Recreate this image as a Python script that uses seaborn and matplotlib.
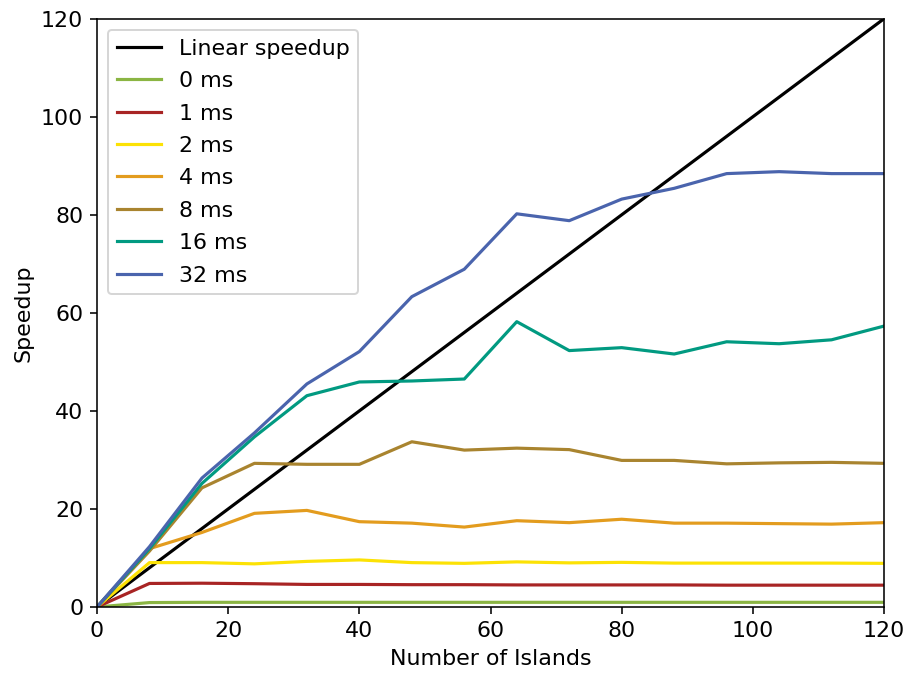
import numpy as np
import pandas as pd
import matplotlib
matplotlib.use("Agg")
import matplotlib.pyplot as plt
import seaborn as sns

# Number of islands sampled
islands = [0, 8, 16, 24, 32, 40, 48, 56, 64, 72, 80, 88, 96, 104, 112, 120]

# Measured speedup per communication delay
speedup_0ms = [0, 0.9, 0.95, 0.95, 0.95, 0.95, 0.95, 0.95, 0.95, 0.95, 0.95, 0.95, 0.95, 0.95, 0.95, 0.95]
speedup_1ms = [0, 4.8, 4.85, 4.75, 4.6, 4.6, 4.55, 4.55, 4.5, 4.5, 4.5, 4.5, 4.45, 4.45, 4.45, 4.45]
speedup_2ms = [0, 9.05, 9.05, 8.8, 9.3, 9.6, 9.05, 8.9, 9.2, 9.0, 9.1, 8.95, 8.95, 8.95, 8.95, 8.9]
speedup_4ms = [0, 11.9, 15.2, 19.1, 19.7, 17.4, 17.1, 16.3, 17.6, 17.2, 17.9, 17.1, 17.1, 17.0, 16.9, 17.2]
speedup_8ms = [0, 11.4, 24.3, 29.3, 29.1, 29.1, 33.7, 32.0, 32.4, 32.1, 29.9, 29.9, 29.2, 29.4, 29.5, 29.3]
speedup_16ms = [0, 11.9, 25.2, 34.7, 43.1, 45.9, 46.1, 46.5, 58.2, 52.3, 52.9, 51.6, 54.1, 53.7, 54.5, 57.3]
speedup_32ms = [0, 12.3, 26.3, 35.5, 45.5, 52.1, 63.3, 68.9, 80.2, 78.8, 83.2, 85.4, 88.4, 88.8, 88.4, 88.4]

labels = ["Linear speedup", "0 ms", "1 ms", "2 ms", "4 ms", "8 ms", "16 ms", "32 ms"]
colors = ["#000000", "#8bb543", "#a82424", "#fce205", "#e39c1e", "#a9842f", "#019a81", "#4a64ad"]

series = [islands, speedup_0ms, speedup_1ms, speedup_2ms, speedup_4ms,
          speedup_8ms, speedup_16ms, speedup_32ms]

frames = []
for label, values in zip(labels, series):
    frames.append(pd.DataFrame({"Number of Islands": islands,
                                "Speedup": values,
                                "series": label}))
df = pd.concat(frames, ignore_index=True)

plt.rcParams["font.size"] = 11.2

fig = plt.figure(figsize=(6.4, 4.77), dpi=142.2)
ax = fig.add_axes([0.1066, 0.1047, 0.8648, 0.8673])

sns.lineplot(data=df, x="Number of Islands", y="Speedup", hue="series",
             hue_order=labels, palette=dict(zip(labels, colors)),
             linewidth=1.6, ax=ax, estimator=None, sort=False)

ax.set_xlim(0, 120)
ax.set_ylim(0, 120)
ax.set_xticks(np.arange(0, 121, 20))
ax.set_yticks(np.arange(0, 121, 20))
ax.legend(title=None, loc="upper left", labelspacing=0.56)

fig.savefig("out.png", dpi=142.2)
